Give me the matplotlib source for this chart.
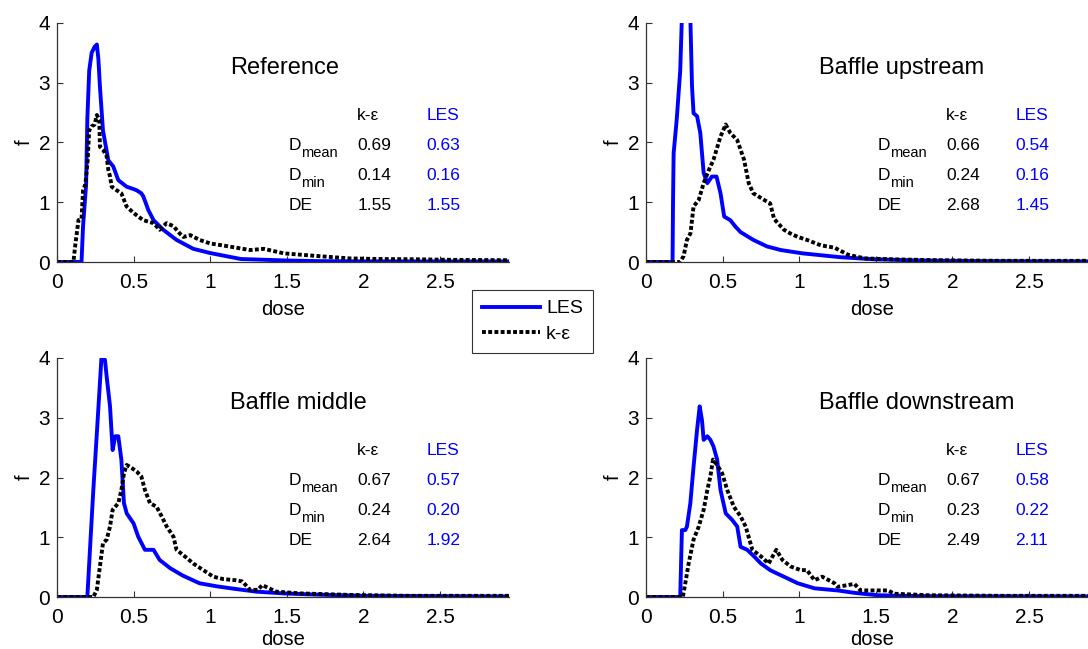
import matplotlib
matplotlib.use('Agg')
import matplotlib.pyplot as plt
from matplotlib.lines import Line2D

plt.rcParams['font.family'] = ['Liberation Sans', 'DejaVu Sans']

# --- данные ---
titles = ['Reference', 'Baffle upstream', 'Baffle middle', 'Baffle downstream']

# Reference
ref_les_x = [0, 0.16, 0.165, 0.17, 0.19, 0.198, 0.21, 0.226, 0.245, 0.26, 0.27, 0.28, 0.30, 0.335,
             0.367, 0.40, 0.454, 0.50, 0.52, 0.55, 0.563, 0.596, 0.63, 0.693, 0.78, 0.89, 1.0, 1.2,
             1.5, 1.7, 2.0, 2.5, 2.95]
ref_les_y = [0, 0, 0.3, 0.6, 1.3, 2.4, 3.2, 3.5, 3.6, 3.64, 3.4, 2.94, 2.2, 1.7,
             1.6, 1.37, 1.26, 1.22, 1.2, 1.15, 1.1, 0.87, 0.70, 0.54, 0.37, 0.22, 0.15, 0.05,
             0.025, 0.015, 0.01, 0.01, 0.01]
ref_ke_x = [0, 0.107, 0.12, 0.14, 0.16, 0.17, 0.185, 0.2, 0.21, 0.226, 0.245, 0.26, 0.276, 0.28,
            0.30, 0.324, 0.335, 0.346, 0.357, 0.39, 0.42, 0.454, 0.5, 0.563, 0.63, 0.67, 0.715,
            0.76, 0.80, 0.825, 0.87, 0.93, 1.0, 1.1, 1.26, 1.35, 1.48, 1.60, 1.70, 1.91, 2.1,
            2.35, 2.6, 2.95]
ref_ke_y = [0, 0, 0.3, 0.7, 0.72, 1.2, 1.3, 1.7, 2.2, 2.27, 2.3, 2.46, 2.38, 1.93,
            1.88, 1.77, 1.54, 1.43, 1.26, 1.2, 1.15, 0.93, 0.82, 0.7, 0.65, 0.54, 0.65,
            0.6, 0.48, 0.42, 0.45, 0.37, 0.31, 0.27, 0.2, 0.22, 0.145, 0.12, 0.1, 0.06, 0.05,
            0.045, 0.035, 0.03]

# Baffle upstream
up_les_x = [0, 0.173, 0.176, 0.18, 0.2, 0.223, 0.234, 0.289, 0.30, 0.31, 0.333, 0.354, 0.376,
            0.40, 0.43, 0.46, 0.486, 0.51, 0.55, 0.584, 0.617, 0.70, 0.79, 0.88, 1.02, 1.27,
            1.49, 1.8, 2.2, 2.95]
up_les_y = [0, 0, 1.0, 1.82, 2.38, 3.2, 4.1, 4.1, 2.94, 2.49, 2.44, 2.16, 1.49,
            1.32, 1.43, 1.43, 1.15, 0.76, 0.70, 0.59, 0.50, 0.37, 0.26, 0.2, 0.145, 0.08,
            0.045, 0.025, 0.015, 0.01]
up_ke_x = [0, 0.223, 0.245, 0.267, 0.29, 0.31, 0.344, 0.376, 0.41, 0.44, 0.486, 0.52, 0.55,
           0.595, 0.64, 0.67, 0.70, 0.77, 0.81, 0.836, 0.90, 0.94, 0.99, 1.05, 1.14, 1.23,
           1.32, 1.43, 1.6, 1.9, 2.3, 2.95]
up_ke_y = [0, 0, 0.1, 0.37, 0.48, 0.93, 1.04, 1.32, 1.54, 1.71, 2.1, 2.3, 2.16,
           2.04, 1.71, 1.32, 1.15, 1.04, 0.98, 0.72, 0.54, 0.48, 0.42, 0.37, 0.28, 0.24,
           0.12, 0.06, 0.045, 0.03, 0.02, 0.02]

# Baffle middle
mid_les_x = [0, 0.198, 0.215, 0.237, 0.26, 0.28, 0.29, 0.313, 0.324, 0.346, 0.363, 0.38, 0.40,
             0.42, 0.437, 0.455, 0.5, 0.53, 0.574, 0.63, 0.67, 0.74, 0.82, 0.93, 1.04, 1.15,
             1.3, 1.48, 1.7, 2.0, 2.95]
mid_les_y = [0, 0, 0.79, 1.79, 2.74, 3.58, 4.0, 3.97, 3.69, 3.19, 2.46, 2.69, 2.69,
             2.3, 1.57, 1.40, 1.23, 1.01, 0.79, 0.79, 0.62, 0.48, 0.36, 0.23, 0.18, 0.14,
             0.09, 0.06, 0.04, 0.02, 0.01]
mid_ke_x = [0, 0.237, 0.26, 0.28, 0.30, 0.324, 0.346, 0.363, 0.40, 0.42, 0.437, 0.455, 0.487,
            0.52, 0.55, 0.574, 0.607, 0.65, 0.683, 0.716, 0.76, 0.78, 0.825, 0.89, 0.955, 1.02,
            1.085, 1.17, 1.21, 1.26, 1.31, 1.34, 1.43, 1.59, 1.91, 2.3, 2.95]
mid_ke_y = [0, 0, 0.12, 0.51, 0.9, 0.96, 1.18, 1.46, 1.57, 1.79, 2.07, 2.21, 2.16,
            2.1, 2.02, 1.79, 1.57, 1.51, 1.35, 1.18, 1.01, 0.79, 0.70, 0.56, 0.45, 0.34,
            0.30, 0.28, 0.26, 0.12, 0.12, 0.2, 0.09, 0.06, 0.035, 0.02, 0.02]

# Baffle downstream
down_les_x = [0, 0.223, 0.234, 0.256, 0.267, 0.289, 0.31, 0.333, 0.35, 0.365, 0.376, 0.40, 0.42,
              0.44, 0.464, 0.486, 0.52, 0.562, 0.595, 0.617, 0.66, 0.705, 0.75, 0.81, 0.85,
              0.90, 0.99, 1.10, 1.25, 1.36, 1.51, 1.8, 2.95]
down_les_y = [0, 0, 1.12, 1.12, 1.18, 1.57, 2.18, 2.8, 3.19, 2.96, 2.63, 2.69, 2.63,
              2.52, 2.3, 1.79, 1.40, 1.29, 1.18, 0.84, 0.79, 0.68, 0.56, 0.45, 0.40,
              0.34, 0.23, 0.145, 0.11, 0.07, 0.03, 0.015, 0.01]
down_ke_x = [0, 0.24, 0.256, 0.278, 0.31, 0.344, 0.376, 0.40, 0.42, 0.437, 0.464, 0.497, 0.53,
             0.573, 0.617, 0.65, 0.694, 0.75, 0.80, 0.85, 0.89, 0.945, 1.01, 1.05, 1.10, 1.15,
             1.23, 1.25, 1.36, 1.40, 1.58, 1.62, 1.84, 2.3, 2.95]
down_ke_y = [0, 0, 0.23, 0.56, 0.96, 1.18, 1.46, 1.79, 2.02, 2.3, 2.21, 2.07, 1.79,
             1.51, 1.35, 1.18, 0.79, 0.68, 0.56, 0.79, 0.62, 0.51, 0.45, 0.45, 0.28, 0.34,
             0.23, 0.17, 0.22, 0.11, 0.11, 0.055, 0.03, 0.02, 0.02]

les_x = [ref_les_x, up_les_x, mid_les_x, down_les_x]
les_y = [ref_les_y, up_les_y, mid_les_y, down_les_y]
ke_x = [ref_ke_x, up_ke_x, mid_ke_x, down_ke_x]
ke_y = [ref_ke_y, up_ke_y, mid_ke_y, down_ke_y]

# таблички в углу
row_main = ['D', 'D', 'DE']
row_sub = ['mean', 'min', '']
ke_table = [['0.69', '0.14', '1.55'], ['0.66', '0.24', '2.68'],
            ['0.67', '0.24', '2.64'], ['0.67', '0.23', '2.49']]
les_table = [['0.63', '0.16', '1.55'], ['0.54', '0.16', '1.45'],
             ['0.57', '0.20', '1.92'], ['0.58', '0.22', '2.11']]

BLUE = '#0000ff'
W = 0.4154
H = 0.3683
positions = [(0.0524, 0.5963), (0.5938, 0.5963), (0.0524, 0.0801), (0.5938, 0.0801)]
KE_STYLE = (0, (1, 0.6))

fig = plt.figure(figsize=(10.88, 6.49), dpi=100)

for i in range(4):
    ax = fig.add_axes([positions[i][0], positions[i][1], W, H])
    ax.plot(les_x[i], les_y[i], color=BLUE, lw=2.8)
    ax.plot(ke_x[i], ke_y[i], color='black', lw=2.8, linestyle=KE_STYLE,
            dash_capstyle='butt')
    ax.set_xlim(0, 2.95)
    ax.set_ylim(0, 4)
    ax.set_xticks([0, 0.5, 1, 1.5, 2, 2.5])
    ax.set_xticklabels(['0', '0.5', '1', '1.5', '2', '2.5'])
    ax.set_yticks([0, 1, 2, 3, 4])
    ax.spines['top'].set_visible(False)
    ax.spines['right'].set_visible(False)
    for s in ['left', 'bottom']:
        ax.spines[s].set_color('#333333')
        ax.spines[s].set_linewidth(0.9)
    ax.tick_params(direction='in', length=4, width=0.8, labelsize=15,
                   colors='#333333', labelcolor='black')
    ax.tick_params(axis='x', pad=8)
    ax.tick_params(axis='y', pad=5)
    # нижний ряд чуть выше, чтобы подпись не обрезалась
    ax.set_xlabel('dose', fontsize=14.5, labelpad=6 if i < 2 else 2)
    ax.set_ylabel('f', fontsize=14.5, labelpad=3)

    ax.text(1.13, 3.25, titles[i], fontsize=17, va='center', ha='left')
    ax.text(1.96, 2.38, 'k-ε', fontsize=12.5, va='baseline')
    ax.text(2.41, 2.38, 'LES', fontsize=12.5, va='baseline', color=BLUE)
    for r in range(3):
        yb = 1.87 - 0.5 * r
        ax.text(1.51, yb, row_main[r], fontsize=12.5, va='baseline')
        if row_sub[r]:
            ax.annotate(row_sub[r], xy=(1.51, yb), xytext=(9.2, -5), textcoords='offset points',
                        fontsize=10.5, va='baseline')
        ax.text(1.96, yb, ke_table[i][r], fontsize=12.5, va='baseline')
        ax.text(2.41, yb, les_table[i][r], fontsize=12.5, va='baseline', color=BLUE)

handles = [Line2D([], [], color=BLUE, lw=2.8),
           Line2D([], [], color='black', lw=2.8, linestyle=KE_STYLE, dash_capstyle='butt')]
leg = fig.legend(handles, ['LES', 'k-ε'], loc='upper left', bbox_to_anchor=(0.434, 0.553),
                 borderaxespad=0, fontsize=14, fancybox=False, framealpha=1,
                 edgecolor='#333333', handlelength=3.0, borderpad=0.5, labelspacing=0.4,
                 handletextpad=0.3)
leg.get_frame().set_linewidth(0.8)

fig.savefig('out.png', dpi=100)
